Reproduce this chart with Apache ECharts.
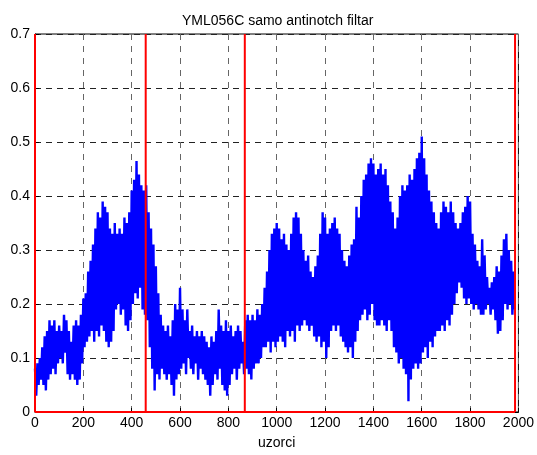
<!DOCTYPE html>
<html>
<head>
<meta charset="utf-8">
<title>YML056C samo antinotch filtar</title>
<script src="https://cdn.jsdelivr.net/npm/echarts@6/dist/echarts.min.js"></script>
<style>
  html, body { margin: 0; padding: 0; background: #fff; }
  #chart { width: 537px; height: 455px; }
</style>
</head>
<body>
<div id="chart"></div>
<script>
// Sample spacing of the envelope readings (uzorci)
const step = 10;

// Upper envelope of the filtered signal, one value every `step` samples
const upper = [
  0.08, 0.09, 0.10, 0.12, 0.14, 0.15, 0.17, 0.16, 0.17, 0.15,
  0.16, 0.15, 0.18, 0.17, 0.15, 0.13, 0.16, 0.17, 0.16, 0.18,
  0.21, 0.22, 0.26, 0.28, 0.31, 0.34, 0.37, 0.36, 0.39, 0.38,
  0.37, 0.34, 0.33, 0.35, 0.33, 0.34, 0.33, 0.36, 0.35, 0.37,
  0.41, 0.43, 0.465, 0.44, 0.42, 0.41, 0.42, 0.37, 0.34, 0.31,
  0.27, 0.22, 0.18, 0.16, 0.15, 0.16, 0.14, 0.17, 0.20, 0.19,
  0.23, 0.19, 0.17, 0.19, 0.15, 0.16, 0.14, 0.15, 0.14, 0.15,
  0.14, 0.13, 0.12, 0.14, 0.13, 0.15, 0.19, 0.16, 0.15, 0.17,
  0.15, 0.16, 0.14, 0.15, 0.16, 0.15, 0.13, 0.17, 0.18, 0.17,
  0.18, 0.17, 0.19, 0.18, 0.20, 0.23, 0.26, 0.30, 0.33, 0.34,
  0.35, 0.34, 0.32, 0.33, 0.31, 0.30, 0.33, 0.36, 0.37, 0.36,
  0.33, 0.30, 0.28, 0.29, 0.26, 0.25, 0.27, 0.29, 0.33, 0.37,
  0.36, 0.33, 0.34, 0.35, 0.36, 0.34, 0.33, 0.30, 0.28, 0.27,
  0.29, 0.31, 0.32, 0.38, 0.36, 0.40, 0.43, 0.44, 0.46, 0.47,
  0.46, 0.44, 0.45, 0.46, 0.44, 0.45, 0.42, 0.39, 0.37, 0.34,
  0.36, 0.40, 0.42, 0.41, 0.42, 0.44, 0.43, 0.45, 0.47, 0.48,
  0.51, 0.47, 0.44, 0.41, 0.39, 0.37, 0.35, 0.34, 0.37, 0.39,
  0.38, 0.37, 0.39, 0.37, 0.35, 0.34, 0.35, 0.37, 0.38, 0.40,
  0.39, 0.33, 0.31, 0.28, 0.27, 0.32, 0.29, 0.25, 0.23, 0.24,
  0.25, 0.27, 0.26, 0.29, 0.32, 0.33, 0.30, 0.28, 0.26
];

// Lower envelope, read at the same sample positions offset by step/2
const lower = [
  0.03, 0.05, 0.06, 0.05, 0.04, 0.06, 0.07, 0.08, 0.07, 0.09,
  0.10, 0.09, 0.11, 0.07, 0.06, 0.07, 0.06, 0.05, 0.06, 0.09,
  0.12, 0.13, 0.14, 0.15, 0.13, 0.15, 0.14, 0.16, 0.15, 0.13,
  0.12, 0.13, 0.15, 0.19, 0.20, 0.18, 0.19, 0.16, 0.15, 0.17,
  0.20, 0.22, 0.21, 0.23, 0.19, 0.18, 0.17, 0.12, 0.08, 0.04,
  0.07, 0.06, 0.08, 0.07, 0.06, 0.07, 0.05, 0.03, 0.06, 0.07,
  0.08, 0.09, 0.07, 0.10, 0.08, 0.07, 0.09, 0.06, 0.08, 0.07,
  0.06, 0.05, 0.03, 0.05, 0.07, 0.06, 0.08, 0.05, 0.04, 0.03,
  0.05, 0.07, 0.08, 0.06, 0.08, 0.09, 0.07, 0.08, 0.07, 0.06,
  0.08, 0.09, 0.09, 0.10, 0.12, 0.12, 0.13, 0.11, 0.13, 0.12,
  0.13, 0.14, 0.13, 0.12, 0.15, 0.14, 0.15, 0.13, 0.16, 0.15,
  0.16, 0.17, 0.16, 0.15, 0.16, 0.14, 0.13, 0.14, 0.12, 0.13,
  0.10, 0.12, 0.15, 0.16, 0.15, 0.16, 0.14, 0.13, 0.12, 0.11,
  0.12, 0.10, 0.13, 0.15, 0.17, 0.18, 0.19, 0.17, 0.18, 0.20,
  0.17, 0.16, 0.16, 0.17, 0.16, 0.15, 0.17, 0.15, 0.12, 0.11,
  0.09, 0.10, 0.08, 0.07, 0.02, 0.06, 0.08, 0.09, 0.08, 0.09,
  0.11, 0.12, 0.10, 0.13, 0.12, 0.14, 0.15, 0.15, 0.16, 0.15,
  0.17, 0.16, 0.18, 0.20, 0.22, 0.24, 0.23, 0.21, 0.20, 0.21,
  0.20, 0.19, 0.20, 0.19, 0.18, 0.18, 0.19, 0.20, 0.18, 0.19,
  0.17, 0.145, 0.15, 0.17, 0.20, 0.19, 0.20, 0.18, 0.19
];

// Segment boundaries marked in red (sample index)
const boundaries = [0, 458, 868, 1986];

// Axis ranges and tick spacing
const xRange = [0, 2000], xStep = 200;
const yRange = [0, 0.7], yStep = 0.1;

// Oscillating trace: alternate upper and lower envelope points
const trace = [];
for (let i = 0; i < upper.length; i++) {
  trace.push([i * step, upper[i]]);
  trace.push([i * step + step / 2, lower[i]]);
}

const font = "'Liberation Sans', Arial, sans-serif";
const red = '#ff0000';

const series = [{
  type: 'line',
  data: trace,
  showSymbol: false,
  lineStyle: { color: '#0000ff', width: 2.4, join: 'bevel' },
  z: 2
}];

// Vertical red markers at each boundary
boundaries.forEach(b => {
  series.push({
    type: 'line',
    data: [[b, yRange[0]], [b, yRange[1]]],
    showSymbol: false,
    lineStyle: { color: red, width: 2 },
    z: 3
  });
});
// Red baseline along y = 0 up to the last boundary
series.push({
  type: 'line',
  data: [[boundaries[0], 0], [boundaries[boundaries.length - 1], 0]],
  showSymbol: false,
  lineStyle: { color: red, width: 2 },
  z: 3
});

const plain = v => String(v);

const chart = echarts.init(document.getElementById('chart'), null, { renderer: 'canvas' });
chart.setOption({
  animation: false,
  backgroundColor: '#ffffff',
  title: {
    text: 'YML056C samo antinotch filtar',
    left: 177,
    top: 9,
    textStyle: { fontFamily: font, fontSize: 14, fontWeight: 'normal', color: '#000' }
  },
  grid: {
    left: 35, right: 17, top: 34, bottom: 38,
    show: true, borderColor: '#000', borderWidth: 1, backgroundColor: 'transparent'
  },
  xAxis: {
    type: 'value',
    min: xRange[0], max: xRange[1], interval: xStep,
    name: 'uzorci',
    nameLocation: 'middle',
    nameGap: 24,
    nameTextStyle: { fontFamily: font, fontSize: 14, color: '#000' },
    axisLine: { show: true, lineStyle: { color: '#000', width: 1 } },
    axisTick: { show: true, inside: true, length: 4, lineStyle: { color: '#000' } },
    axisLabel: { fontFamily: font, fontSize: 14, color: '#000', margin: 4, formatter: plain },
    splitLine: { show: true, lineStyle: { color: '#666', width: 1, type: [6, 6] } }
  },
  yAxis: {
    type: 'value',
    min: yRange[0], max: yRange[1], interval: yStep,
    axisLine: { show: true, lineStyle: { color: '#000', width: 1 } },
    axisTick: { show: true, inside: true, length: 4, lineStyle: { color: '#000' } },
    axisLabel: { fontFamily: font, fontSize: 14, color: '#000', margin: 5, formatter: plain },
    splitLine: { show: true, lineStyle: { color: '#222', width: 1, type: [6, 5] } }
  },
  series: series
});
</script>
</body>
</html>
